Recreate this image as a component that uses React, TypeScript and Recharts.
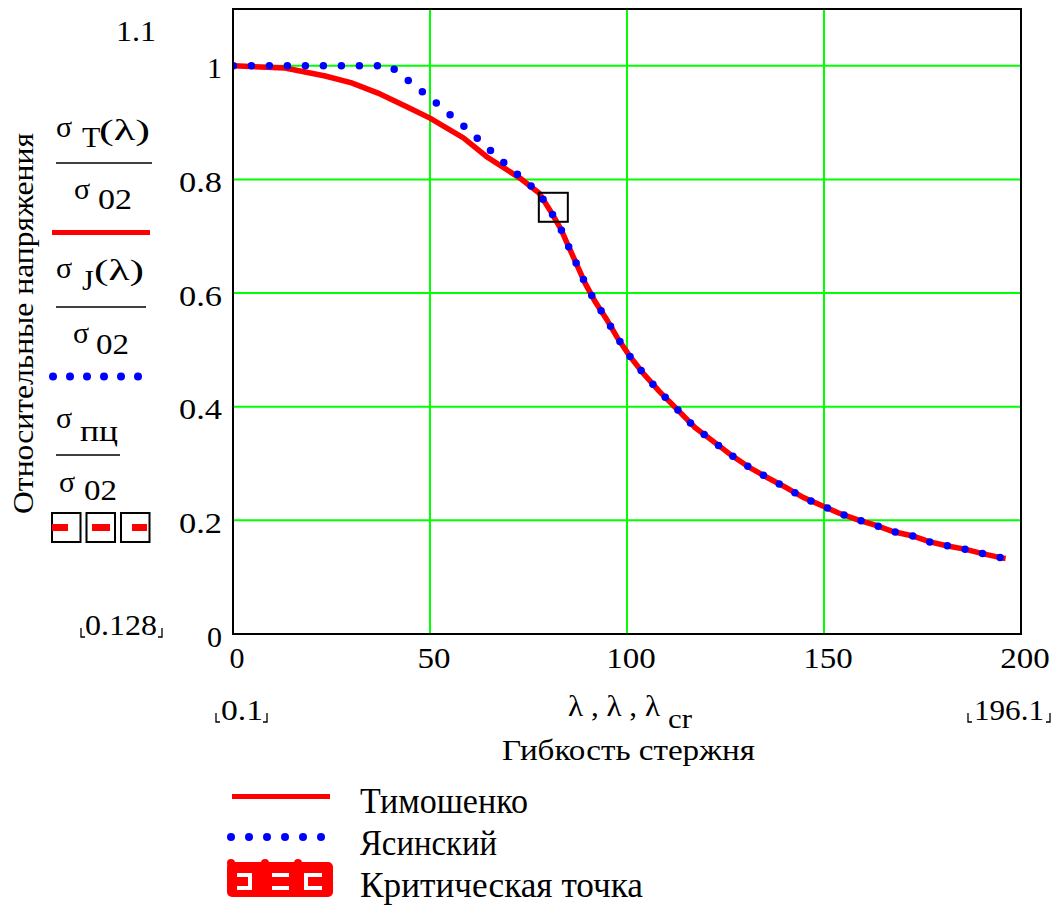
import React from "react";
import {
  ComposedChart,
  Line,
  Scatter,
  XAxis,
  YAxis,
  CartesianGrid,
  ReferenceArea,
  Legend,
} from "recharts";

// ---- data ----
const timoshenkoLambda = [
  0.1, 13.2, 23.4, 30.1, 36.8, 44.1, 50.0, 58.5, 64.4, 72.9, 77.7, 80.7, 83.2, 85.3, 87.4, 89.4,
  91.9, 94.8, 97.5, 100.6, 104.1, 108.2, 112.8, 117.3, 121.9, 126.6, 131.1, 135.7, 140.3, 144.8,
  149.4, 153.7, 158.6, 163.2, 167.7, 172.3, 176.9, 181.4, 186.0, 190.5, 195.1, 196.1,
];
const timoshenkoRatio = [
  1.0, 0.996, 0.982, 0.97, 0.952, 0.928, 0.908, 0.873, 0.84, 0.802, 0.776, 0.743, 0.713, 0.68,
  0.648, 0.617, 0.585, 0.554, 0.522, 0.49, 0.459, 0.427, 0.395, 0.363, 0.339, 0.314, 0.293, 0.275,
  0.258, 0.24, 0.226, 0.213, 0.201, 0.191, 0.18, 0.173, 0.162, 0.155, 0.149, 0.141, 0.134, 0.133,
];
const yasinskyLambda = [0.1, 39.8, 50.3, 59.4, 68.5, 77.7];
const yasinskyRatio = [1.0, 1.0, 0.942, 0.889, 0.831, 0.776];
const criticalLambda = [81.3];
const criticalRatio = [0.751];

const xTicks = [0, 50, 100, 150, 200];
const yTicks = [0, 0.2, 0.4, 0.6, 0.8, 1];
const seriesNames = ["Тимошенко", "Ясинский", "Критическая точка"];
const axisTitleX = "Гибкость стержня";
const axisTitleY = "Относительные напряжения";

const timoshenkoData = timoshenkoLambda.map((l, i) => ({ l, v: timoshenkoRatio[i] }));
const yasinskyTail = yasinskyLambda[yasinskyLambda.length - 1];
const yasinskyData = [
  ...yasinskyLambda.map((l, i) => ({ l, v: yasinskyRatio[i] })),
  ...timoshenkoData.filter((d) => d.l > yasinskyTail),
];
const criticalData = criticalLambda.map((l, i) => ({ l, v: criticalRatio[i] }));

const FONT = "Liberation Serif";
const RED = "#ff0000";
const BLUE = "#0000ff";
const GREEN = "#00ff00";

const fmtY = (v: number) => (v === 0 ? "0" : v === 1 ? "1" : v.toFixed(1));

const YTick = (props: any) => {
  const { y, payload } = props;
  const label = fmtY(payload.value);
  return (
    <text
      x={222}
      y={y + 12.5}
      textAnchor="end"
      style={{ fontFamily: FONT }}
      fontSize={30}
      fill="#000"
      {...(label.length > 1 ? { textLength: 43, lengthAdjust: "spacingAndGlyphs" } : {})}
    >
      {label}
    </text>
  );
};

const XTick = (props: any) => {
  const { x, payload } = props;
  const label = String(payload.value);
  return (
    <text
      x={x + 4}
      y={668}
      textAnchor="middle"
      style={{ fontFamily: FONT }}
      fontSize={30}
      fill="#000"
      {...(label.length > 1 ? { textLength: 16.5 * label.length, lengthAdjust: "spacingAndGlyphs" } : {})}
    >
      {label}
    </text>
  );
};

const CriticalBox = (props: any) => {
  const { cx, cy } = props;
  return (
    <rect x={cx - 14.5} y={cy - 14.5} width={29} height={29} fill="none" stroke="#000" strokeWidth={2} />
  );
};

const T = (p: any) => {
  const { children, len, ...rest } = p;
  return (
    <text
      style={{ fontFamily: FONT }}
      fontSize={30}
      fill="#000"
      {...(len ? { textLength: len, lengthAdjust: "spacingAndGlyphs" } : {})}
      {...rest}
    >
      {children}
    </text>
  );
};

const Brackets = ({ x1, x2, y }: { x1: number; x2: number; y: number }) => (
  <g stroke="#000" strokeWidth={1.3} fill="none">
    <path d={`M${x1},${y - 9} V${y} H${x1 + 4}`} />
    <path d={`M${x2 - 4},${y} H${x2} V${y - 9}`} />
  </g>
);

const renderLegend = () => (
  <svg width={700} height={136} style={{ display: "block" }}>
    <g transform="translate(0,-770)">
      <line x1={232} x2={330} y1={796.5} y2={796.5} stroke={RED} strokeWidth={5} />
      <T x={360} y={813} fontSize={35} len={168}>
        {seriesNames[0]}
      </T>
      {[0, 1, 2, 3, 4, 5].map((i) => (
        <circle key={i} cx={231 + i * 18} cy={837} r={4} fill={BLUE} />
      ))}
      <T x={360} y={855} fontSize={35} len={137}>
        {seriesNames[1]}
      </T>
      <rect x={227} y={862} width={106} height={35} rx={5} fill={RED} />
      {[231, 265, 298].map((cx) => (
        <circle key={cx} cx={cx} cy={863} r={4} fill={RED} />
      ))}
      <g stroke="#fff" strokeWidth={4} fill="none">
        <path d="M237,875 H250 V888 H237" />
        <path d="M272,875 H289 M272,888 H289" />
        <path d="M322,875 H306 V888 H322" />
      </g>
      <T x={360} y={897} fontSize={35} len={283}>
        {seriesNames[2]}
      </T>
    </g>
  </svg>
);

export default function App() {
  return (
    <div style={{ position: "relative", width: 1057, height: 906, background: "#fff" }}>
      <style>{"body{margin:0}"}</style>
      <ComposedChart
        width={1057}
        height={906}
        margin={{ top: 9, right: 36, bottom: 0, left: 0 }}
      >
        <CartesianGrid stroke={GREEN} strokeWidth={2} />
        <XAxis
          dataKey="l"
          type="number"
          domain={[0, 200]}
          ticks={xTicks}
          allowDataOverflow
          height={272}
          tickLine={false}
          axisLine={{ stroke: "#000", strokeWidth: 2 }}
          tick={XTick}
          interval={0}
        />
        <YAxis
          type="number"
          domain={[0, 1.1]}
          ticks={yTicks}
          allowDataOverflow
          width={233}
          tickLine={false}
          axisLine={{ stroke: "#000", strokeWidth: 2 }}
          tick={YTick}
          interval={0}
        />
        <ReferenceArea
          x1={0}
          x2={200}
          y1={0}
          y2={1.1}
          fill="none"
          fillOpacity={0}
          stroke="#000"
          strokeWidth={2}
        />
        <Line
          data={timoshenkoData}
          dataKey="v"
          name={seriesNames[0]}
          type="linear"
          stroke={RED}
          strokeWidth={5.5}
          dot={false}
          activeDot={false}
          isAnimationActive={false}
        />
        <Line
          data={yasinskyData}
          dataKey="v"
          name={seriesNames[1]}
          type="linear"
          stroke={BLUE}
          strokeWidth={7.5}
          strokeDasharray="0 18"
          strokeLinecap="round"
          dot={false}
          activeDot={false}
          isAnimationActive={false}
        />
        <Scatter
          data={criticalData}
          dataKey="v"
          name={seriesNames[2]}
          shape={CriticalBox}
          isAnimationActive={false}
        />
        <Legend
          layout="horizontal"
          verticalAlign="middle"
          align="center"
          content={renderLegend}
          wrapperStyle={{ position: "absolute", left: 0, top: 770, width: 700, height: 136 }}
        />
      </ComposedChart>
      <svg
        width={1057}
        height={906}
        style={{ position: "absolute", left: 0, top: 0, pointerEvents: "none" }}
      >
        <T x={116} y={41} len={40}>1.1</T>
        <T x={33} y={323.5} textAnchor="middle" transform="rotate(-90 33 323.5)" len={381}>
          {axisTitleY}
        </T>
        {/* sigma_T / sigma_02 */}
        <T x={56} y={137}>σ</T>
        <T x={82} y={147}>T</T>
        <T x={99} y={140} len={51}>(λ)</T>
        <line x1={56} x2={152} y1={163} y2={163} stroke="#000" strokeWidth={1.5} />
        <T x={74} y={199}>σ</T>
        <T x={98} y={209} len={34}>02</T>
        <line x1={52} x2={150} y1={232.5} y2={232.5} stroke={RED} strokeWidth={5} />
        {/* sigma_J / sigma_02 */}
        <T x={56} y={278}>σ</T>
        <T x={82} y={290}>J</T>
        <T x={94} y={280} len={50}>(λ)</T>
        <line x1={56} x2={146} y1={307} y2={307} stroke="#000" strokeWidth={1.5} />
        <T x={73} y={343}>σ</T>
        <T x={96} y={354} len={33}>02</T>
        {[0, 1, 2, 3, 4, 5].map((i) => (
          <circle key={i} cx={53 + i * 17} cy={376.5} r={4} fill={BLUE} />
        ))}
        {/* sigma_pc / sigma_02 */}
        <T x={56} y={428}>σ</T>
        <T x={80} y={441} len={38}>пц</T>
        <line x1={56} x2={120} y1={455} y2={455} stroke="#000" strokeWidth={1.5} />
        <T x={59} y={492}>σ</T>
        <T x={84} y={500} len={33}>02</T>
        {[52, 86.5, 121].map((x) => (
          <rect key={x} x={x} y={513} width={28.5} height={29} fill="none" stroke="#000" strokeWidth={2} />
        ))}
        <g stroke={RED} strokeWidth={7}>
          <line x1={52} x2={68} y1={527.5} y2={527.5} />
          <line x1={92} x2={110} y1={527.5} y2={527.5} />
          <line x1={132} x2={147} y1={527.5} y2={527.5} />
        </g>
        <T x={85} y={635} len={72}>0.128</T>
        <Brackets x1={81} x2={162} y={637} />
        {/* x range labels */}
        <T x={221} y={720} len={42}>0.1</T>
        <Brackets x1={216} x2={267} y={722} />
        <T x={974} y={720} len={70}>196.1</T>
        <Brackets x1={968} x2={1050} y={722} />
        <T x={568} y={716} len={92}>λ , λ , λ</T>
        <T x={668} y={728} fontSize={27} len={24}>cr</T>
        <T x={502} y={760} len={253}>{axisTitleX}</T>
      </svg>
    </div>
  );
}
